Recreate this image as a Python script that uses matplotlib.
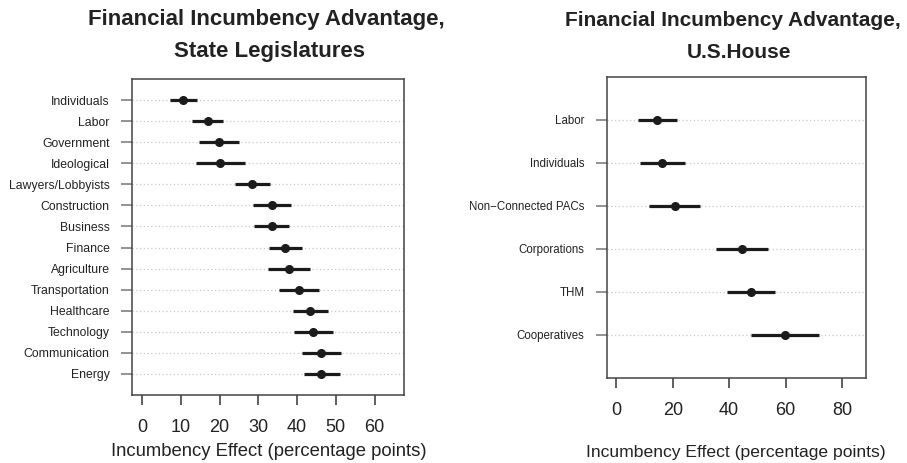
import matplotlib.pyplot as plt

plt.rcParams['font.family'] = ['Liberation Sans', 'DejaVu Sans']

# State legislatures (top to bottom)
state_labels = ['Individuals', 'Labor', 'Government', 'Ideological', 'Lawyers/Lobbyists',
                'Construction', 'Business', 'Finance', 'Agriculture', 'Transportation',
                'Healthcare', 'Technology', 'Communication', 'Energy']
state_est = [10.5, 16.9, 19.9, 20.2, 28.5, 33.5, 33.5, 37.0, 38.0, 40.4, 43.4, 44.1, 46.3, 46.3]
state_lo = [7.1, 12.8, 14.8, 13.9, 23.9, 28.6, 29.0, 32.8, 32.6, 35.3, 39.0, 39.1, 41.3, 41.7]
state_hi = [14.1, 20.9, 25.0, 26.5, 33.1, 38.5, 38.0, 41.3, 43.4, 45.6, 48.0, 49.2, 51.4, 51.0]
state_ticks = [0, 10, 20, 30, 40, 50, 60]

# U.S. House (top to bottom)
house_labels = ['Labor', 'Individuals', 'Non\u2212Connected PACs', 'Corporations', 'THM', 'Cooperatives']
house_est = [14.6, 16.3, 20.8, 44.5, 47.7, 59.7]
house_lo = [7.7, 8.4, 11.7, 35.3, 39.1, 47.7]
house_hi = [21.6, 24.2, 29.7, 53.7, 56.3, 72.0]
house_ticks = [0, 20, 40, 60, 80]

ink = '#1b1b1b'


def dotplot(ax, labels, est, lo, hi, ticks, xmax, ylab_size, tick_pad):
    n = len(labels)
    ys = [n - i for i in range(n)]
    for y in ys:
        ax.axhline(y, color='#c8c8c8', lw=0.9, ls=(0, (1, 2)), zorder=1)
    ax.hlines(ys, lo, hi, color=ink, lw=2.3, zorder=2)
    ax.plot(est, ys, 'o', color=ink, ms=5.5, zorder=3)

    pad = 0.04 * xmax
    ax.set_xlim(-pad, xmax + pad)
    ax.set_ylim(0, n + 1)
    ax.set_yticks(ys)
    ax.set_yticklabels(labels, fontsize=ylab_size, color='#222222')
    ax.set_xticks(ticks)
    ax.set_xticklabels([str(t) for t in ticks], fontsize=13, color='#222222')
    ax.tick_params(axis='y', length=8, width=1.3, color='#8a8a8a', pad=8)
    ax.tick_params(axis='x', length=7.5, width=1.2, color='#444444', pad=tick_pad)
    for s in ax.spines.values():
        s.set_color('#444444')
        s.set_linewidth(1.1)


fig = plt.figure(figsize=(9.07, 4.63), dpi=100)

ax1 = fig.add_axes([0.1455, 0.1469, 0.2999, 0.6825])
dotplot(ax1, state_labels, state_est, state_lo, state_hi, state_ticks, 65, 8.8, 10)
ax1.set_xlabel('Incumbency Effect (percentage points)', fontsize=13.3, color='#222222', va='center')
ax1.xaxis.set_label_coords(0.504, -0.180)

ax2 = fig.add_axes([0.6689, 0.1836, 0.2856, 0.6501])
dotplot(ax2, house_labels, house_est, house_lo, house_hi, house_ticks, 85, 8.3, 10)
ax2.set_xlabel('Incumbency Effect (percentage points)', fontsize=12.6, color='#222222', va='center')
ax2.xaxis.set_label_coords(0.499, -0.246)

fig.text(266 / 907, 1 - 20 / 463, 'Financial Incumbency Advantage,', ha='center', va='center',
         fontsize=16, fontweight='bold', color='#222222')
fig.text(270 / 907, 1 - 52 / 463, 'State Legislatures', ha='center', va='center',
         fontsize=16, fontweight='bold', color='#222222')
fig.text(733 / 907, 1 - 20.7 / 463, 'Financial Incumbency Advantage,', ha='center', va='center',
         fontsize=15, fontweight='bold', color='#222222')
fig.text(739 / 907, 1 - 52 / 463, 'U.S.House', ha='center', va='center',
         fontsize=15, fontweight='bold', color='#222222')

fig.savefig('out.png', dpi=100, facecolor='white')
